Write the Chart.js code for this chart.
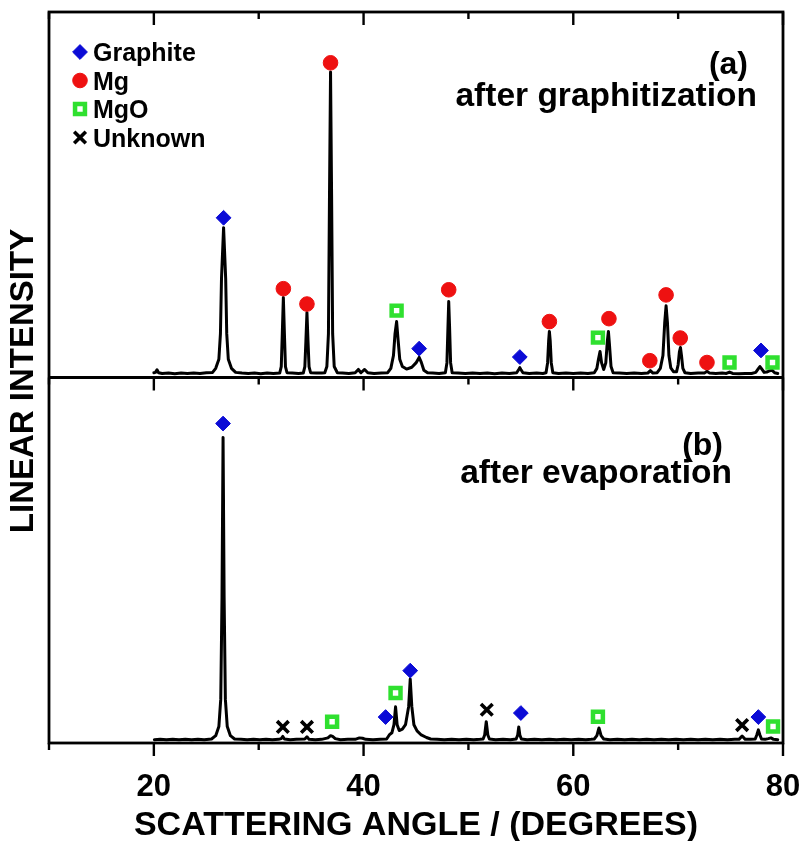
<!DOCTYPE html>
<html>
<head>
<meta charset="utf-8">
<script src="https://cdn.jsdelivr.net/npm/chart.js@4.4.1/dist/chart.umd.min.js"></script>
<style>
  html, body { margin: 0; padding: 0; background: #ffffff; }
  #wrap { width: 801px; height: 841px; position: relative; }
</style>
</head>
<body>
<div id="wrap"><canvas id="xrd" width="801" height="841"></canvas></div>
<script>
// ---- Pattern (a): after graphitization (2-theta in degrees, relative intensity) ----
const anglesA = [
  20.0, 20.15, 20.3, 20.45, 20.8, 21.4, 22.0, 22.6, 23.2, 23.8, 24.4, 25.0, 25.6, 25.9, 26.2, 26.35, 26.45, 26.65,
  26.85, 26.95, 27.1, 27.4, 27.8, 28.4, 29.0, 29.6, 30.2, 30.8, 31.4, 32.0, 32.15, 32.25, 32.35, 32.45, 32.55,
  32.7, 33.2, 33.8, 34.25, 34.4, 34.5, 34.6, 34.7, 34.8, 34.95, 35.5, 36.0, 36.3, 36.5, 36.65, 36.75, 36.85,
  36.95, 37.05, 37.2, 37.5, 38.0, 38.6, 39.2, 39.5, 39.75, 40.1, 40.4, 41.0, 41.7, 42.3, 42.6, 42.85, 43.0,
  43.15, 43.3, 43.45, 43.7, 44.1, 44.6, 45.0, 45.3, 45.5, 45.75, 46.1, 46.6, 47.2, 47.8, 47.95, 48.05, 48.12,
  48.2, 48.3, 48.45, 49.0, 49.7, 50.4, 51.1, 51.8, 52.5, 53.2, 53.9, 54.6, 54.8, 54.9, 55.0, 55.2, 55.8, 56.5,
  57.1, 57.4, 57.55, 57.65, 57.72, 57.8, 57.9, 58.05, 58.6, 59.3, 60.0, 60.7, 61.4, 62.0, 62.25, 62.4, 62.55,
  62.7, 62.9, 63.1, 63.25, 63.35, 63.45, 63.6, 63.8, 64.4, 65.1, 65.8, 66.5, 67.1, 67.35, 67.6, 68.0, 68.3,
  68.55, 68.72, 68.85, 68.98, 69.12, 69.3, 69.55, 69.85, 70.0, 70.12, 70.22, 70.32, 70.45, 70.65, 71.2, 71.9,
  72.5, 72.75, 73.0, 73.6, 74.2, 74.6, 74.9, 75.2, 75.8, 76.4, 77.0, 77.4, 77.6, 77.8, 78.0, 78.2, 78.45,
  78.7, 78.95, 79.2, 79.5
];
const intensityA = [
  1.3, 1.4, 2.1, 1.3, 1.1, 1.2, 1.0, 1.2, 1.1, 1.2, 1.1, 1.3, 1.4, 2.5, 5.0, 12.0, 27.0, 41.0,
  27.0, 12.0, 5.0, 2.5, 1.4, 1.2, 1.1, 1.2, 1.0, 1.2, 1.1, 1.2, 3.0, 12.0, 21.9, 12.0, 3.0,
  1.3, 1.2, 1.1, 1.2, 3.0, 10.0, 17.8, 10.0, 3.0, 1.3, 1.2, 1.2, 1.3, 3.0, 12.0, 50.0, 83.6,
  50.0, 12.0, 3.0, 1.3, 1.2, 1.1, 1.3, 2.2, 1.3, 2.2, 1.3, 1.1, 1.2, 1.3, 2.5, 6.0, 12.0,
  15.3, 10.0, 5.0, 3.0, 2.3, 2.8, 4.0, 5.5, 4.2, 2.0, 1.3, 1.2, 1.1, 1.3, 4.0, 14.0, 20.8,
  14.0, 4.0, 1.3, 1.2, 1.1, 1.2, 1.1, 1.2, 1.0, 1.2, 1.1, 1.3, 2.2, 2.7, 2.2, 1.3, 1.1, 1.2,
  1.1, 1.3, 4.0, 10.0, 12.6, 10.0, 4.0, 1.3, 1.1, 1.2, 1.1, 1.2, 1.1, 1.3, 2.5, 5.0, 7.1,
  4.0, 2.2, 4.0, 10.0, 12.6, 9.0, 3.0, 1.3, 1.2, 1.1, 1.2, 1.1, 1.2, 1.9, 1.2, 1.3, 2.5,
  6.0, 15.0, 19.6, 15.0, 6.0, 2.6, 1.6, 1.6, 3.5, 7.0, 8.2, 6.0, 2.5, 1.3, 1.1, 1.2,
  1.2, 1.7, 1.2, 1.1, 1.2, 1.1, 1.5, 1.1, 1.0, 1.1, 1.1, 1.4, 2.2, 3.0, 2.2, 1.4, 1.5,
  1.8, 2.0, 1.3, 1.1
];

// ---- Pattern (b): after evaporation ----
const anglesB = [
  20.05, 20.6, 21.2, 21.8, 22.4, 23.0, 23.6, 24.2, 24.8, 25.5, 25.9, 26.2, 26.38, 26.5, 26.6, 26.7, 26.82,
  27.0, 27.3, 27.7, 28.3, 28.9, 29.5, 30.1, 30.7, 31.3, 31.9, 32.15, 32.3, 32.45, 33.0, 33.6, 34.4, 34.6,
  34.8, 35.4, 36.0, 36.6, 36.85, 37.05, 37.3, 37.8, 38.5, 39.2, 39.6, 39.9, 40.2, 40.9, 41.6, 42.2, 42.45,
  42.7, 42.9, 43.05, 43.2, 43.4, 43.7, 44.0, 44.3, 44.45, 44.6, 44.8, 45.1, 45.5, 46.0, 46.4, 47.0, 47.7,
  48.4, 49.1, 49.8, 50.5, 51.1, 51.4, 51.55, 51.7, 51.85, 52.0, 52.6, 53.3, 54.0, 54.55, 54.7, 54.8, 54.9,
  55.05, 55.6, 56.3, 57.0, 57.7, 58.4, 59.1, 59.8, 60.5, 61.2, 61.7, 62.0, 62.25, 62.45, 62.65, 62.9, 63.5,
  64.2, 64.9, 65.6, 66.3, 67.0, 67.7, 68.4, 69.1, 69.8, 70.5, 71.2, 71.9, 72.6, 73.3, 74.0, 74.7, 75.4,
  75.8, 76.1, 76.4, 76.9, 77.35, 77.5, 77.65, 77.8, 77.95, 78.3, 78.6, 78.85, 79.1, 79.5
];
const intensityB = [
  0.9, 1.0, 0.9, 1.0, 0.9, 1.0, 0.9, 1.0, 0.9, 1.1, 2.0, 4.5, 12.0, 40.0, 83.6, 40.0, 12.0,
  4.5, 2.0, 1.1, 1.0, 0.9, 1.0, 0.9, 1.0, 0.9, 1.0, 1.2, 1.8, 1.1, 0.9, 1.0, 1.1, 1.7,
  1.0, 0.9, 1.0, 1.4, 2.0, 1.8, 1.2, 0.9, 1.0, 1.0, 1.4, 1.3, 1.0, 0.9, 1.0, 1.1, 2.2,
  2.8, 5.0, 9.9, 5.0, 3.4, 3.8, 5.0, 10.0, 17.5, 10.0, 5.0, 3.3, 2.2, 1.5, 1.1, 1.0, 0.9,
  1.0, 0.9, 1.0, 0.9, 1.0, 1.1, 2.2, 5.8, 2.2, 1.1, 0.9, 1.0, 0.9, 1.1, 2.2, 4.4, 2.2,
  1.1, 0.9, 1.0, 0.9, 1.0, 0.9, 1.0, 0.9, 1.0, 0.9, 1.0, 1.1, 2.0, 4.1, 2.0, 1.1, 0.9,
  1.0, 0.9, 1.0, 0.9, 1.0, 0.9, 1.0, 0.9, 1.0, 0.9, 1.0, 0.9, 1.0, 0.9, 1.0, 0.9, 1.0,
  1.0, 1.9, 1.0, 1.0, 1.1, 2.2, 3.6, 2.2, 1.1, 1.0, 1.2, 1.4, 1.0, 0.9
];

// ---- Phase markers [angle, marker height] ----
const graphiteA = [[26.65, 43.7], [45.3, 7.9], [54.9, 5.6], [77.9, 7.4]];
const mgA = [[32.35, 24.3], [34.6, 20.1], [36.85, 86.1], [48.12, 24.0], [57.72, 15.3], [63.4, 16.1],
             [67.3, 4.6], [68.85, 22.6], [70.2, 10.8], [72.75, 4.1]];
const mgoA = [[43.15, 18.3], [62.35, 10.9], [74.9, 4.1], [79.0, 4.1]];

const graphiteB = [[26.6, 87.4], [42.1, 7.1], [44.45, 19.8], [55.0, 8.2], [77.65, 7.1]];
const mgoB = [[37.0, 5.8], [43.05, 13.7], [62.35, 7.2], [79.05, 4.5]];
const unknownB = [[32.3, 4.4], [34.6, 4.4], [51.75, 9.1], [76.1, 4.9]];

// ---- Axis ticks ----
const xTickLabels = [20, 40, 60, 80];
const xMinorTicks = [10, 30, 50, 70];

const FONT = '"Liberation Sans", Arial, Helvetica, sans-serif';
const BLUE = '#0b0bd6';
const RED = '#ee1111';
const GREEN = '#2fe02f';

// marker styles per phase
const phaseStyles = {
  Graphite: { pointStyle: 'rectRot', radius: 7.4, borderWidth: 1, backgroundColor: BLUE, borderColor: BLUE },
  Mg:       { pointStyle: 'circle',  radius: 7.3, borderWidth: 1, backgroundColor: RED, borderColor: RED },
  MgO:      { pointStyle: 'rect',    radius: 7, borderWidth: 4.5, backgroundColor: '#ffffff', borderColor: GREEN },
  Unknown:  { pointStyle: 'crossRot', radius: 8.2, borderWidth: 3.6, backgroundColor: '#000000', borderColor: '#000000' }
};
const legendNames = ['Graphite', 'Mg', 'MgO', 'Unknown'];

const toXY = (xs, ys) => xs.map((x, i) => ({ x: x, y: ys[i] }));
const pairs = (arr) => arr.map(p => ({ x: p[0], y: p[1] }));

function curve(label, xs, ys, axis) {
  return {
    type: 'line', label: label, data: toXY(xs, ys), yAxisID: axis, order: 2,
    borderColor: '#000000', borderWidth: 3, pointRadius: 0, tension: 0,
    borderJoinStyle: 'round', borderCapStyle: 'round', fill: false
  };
}
function markers(name, pts, axis) {
  const s = phaseStyles[name];
  return {
    type: 'scatter', label: name, data: pairs(pts), yAxisID: axis, order: 1, clip: false,
    pointStyle: s.pointStyle, pointRadius: s.radius, pointBorderWidth: s.borderWidth,
    pointBackgroundColor: s.backgroundColor, pointBorderColor: s.borderColor,
    pointHoverRadius: s.radius, showLine: false
  };
}

function drawMarker(ctx, style, x, y) {
  ctx.save();
  ctx.fillStyle = style.backgroundColor;
  ctx.strokeStyle = style.borderColor;
  ctx.lineWidth = style.borderWidth;
  if (Chart.helpers && Chart.helpers.drawPoint) {
    Chart.helpers.drawPoint(ctx, { pointStyle: style.pointStyle, radius: style.radius, borderWidth: style.borderWidth, rotation: 0 }, x, y);
  }
  ctx.restore();
}

// frame, tick marks, captions and legend
const framePlugin = {
  id: 'frame',
  afterDraw(chart) {
    const ctx = chart.ctx;
    const ca = chart.chartArea;
    const xs = chart.scales.x;
    const ya = chart.scales.ya;
    const divY = ya.bottom;
    ctx.save();
    ctx.strokeStyle = '#000000';
    ctx.lineWidth = 2.8;
    ctx.lineCap = 'butt';
    ctx.strokeRect(ca.left, ca.top, ca.right - ca.left, ca.bottom - ca.top);
    ctx.beginPath();
    ctx.moveTo(ca.left, divY);
    ctx.lineTo(ca.right, divY);
    ctx.stroke();

    ctx.lineWidth = 2.4;
    const tickSet = xTickLabels.map(v => [v, 13]).concat(xMinorTicks.map(v => [v, 7]));
    ctx.beginPath();
    tickSet.forEach(([v, len]) => {
      const px = xs.getPixelForValue(v);
      ctx.moveTo(px, ca.top); ctx.lineTo(px, ca.top + len);
      ctx.moveTo(px, divY); ctx.lineTo(px, divY + len);
      ctx.moveTo(px, ca.bottom); ctx.lineTo(px, ca.bottom + len);
    });
    ctx.stroke();

    // vertical axis title
    ctx.fillStyle = '#000000';
    ctx.font = 'bold 33px ' + FONT;
    ctx.textAlign = 'center';
    ctx.textBaseline = 'alphabetic';
    ctx.save();
    ctx.translate(33, 381);
    ctx.rotate(-Math.PI / 2);
    ctx.fillText('LINEAR INTENSITY', 0, 0);
    ctx.restore();

    // panel captions
    ctx.textAlign = 'right';
    ctx.font = 'bold 32px ' + FONT;
    ctx.fillText('(a)', ca.right - 35, ca.top + 62);
    ctx.font = 'bold 33.5px ' + FONT;
    ctx.fillText('after graphitization', ca.right - 26, ca.top + 94);
    ctx.font = 'bold 32px ' + FONT;
    ctx.fillText('(b)', ca.right - 60, divY + 77);
    ctx.font = 'bold 33.5px ' + FONT;
    ctx.fillText('after evaporation', ca.right - 51, divY + 105);

    // legend
    ctx.textAlign = 'left';
    ctx.font = 'bold 25px ' + FONT;
    legendNames.forEach((name, i) => {
      const cy = ca.top + 40 + i * 28.5;
      drawMarker(ctx, phaseStyles[name], ca.left + 31, cy);
      ctx.fillStyle = '#000000';
      ctx.fillText(name, ca.left + 44, cy + 9);
    });
    ctx.restore();
  }
};

const ctx = document.getElementById('xrd').getContext('2d');
new Chart(ctx, {
  data: {
    datasets: [
      markers('Graphite', graphiteA, 'ya'),
      markers('Mg', mgA, 'ya'),
      markers('MgO', mgoA, 'ya'),
      markers('Graphite', graphiteB, 'yb'),
      markers('MgO', mgoB, 'yb'),
      markers('Unknown', unknownB, 'yb'),
      curve('after graphitization', anglesA, intensityA, 'ya'),
      curve('after evaporation', anglesB, intensityB, 'yb')
    ]
  },
  options: {
    responsive: false,
    animation: false,
    devicePixelRatio: 1,
    layout: { padding: { top: 12, right: 18, left: 0, bottom: 0 } },
    plugins: { legend: { display: false }, tooltip: { enabled: false } },
    scales: {
      x: {
        type: 'linear', position: 'bottom', min: 10, max: 80,
        afterFit: (s) => { s.height = 98; s.paddingLeft = 0; s.paddingRight = 0; },
        grid: { display: false, drawTicks: false },
        border: { display: false },
        ticks: {
          stepSize: 10, autoSkip: false, maxRotation: 0, padding: 26, color: '#000000',
          font: { family: FONT, size: 31, weight: 'bold' },
          callback: (v) => xTickLabels.includes(v) ? String(v) : ''
        },
        title: {
          display: true, text: 'SCATTERING ANGLE / (DEGREES)', color: '#000000',
          font: { family: FONT, size: 34, weight: 'bold', lineHeight: 0.9 },
          padding: { top: 0, bottom: 0 }
        }
      },
      ya: {
        type: 'linear', position: 'left', stack: 'xrd', stackWeight: 1, weight: 2,
        min: 0, max: 100,
        afterFit: (s) => { s.width = 49; },
        grid: { display: false, drawTicks: false }, border: { display: false },
        ticks: { display: false }
      },
      yb: {
        type: 'linear', position: 'left', stack: 'xrd', stackWeight: 1, weight: 1,
        min: 0, max: 100,
        afterFit: (s) => { s.width = 49; },
        grid: { display: false, drawTicks: false }, border: { display: false },
        ticks: { display: false }
      }
    }
  },
  plugins: [framePlugin]
});
</script>
</body>
</html>
